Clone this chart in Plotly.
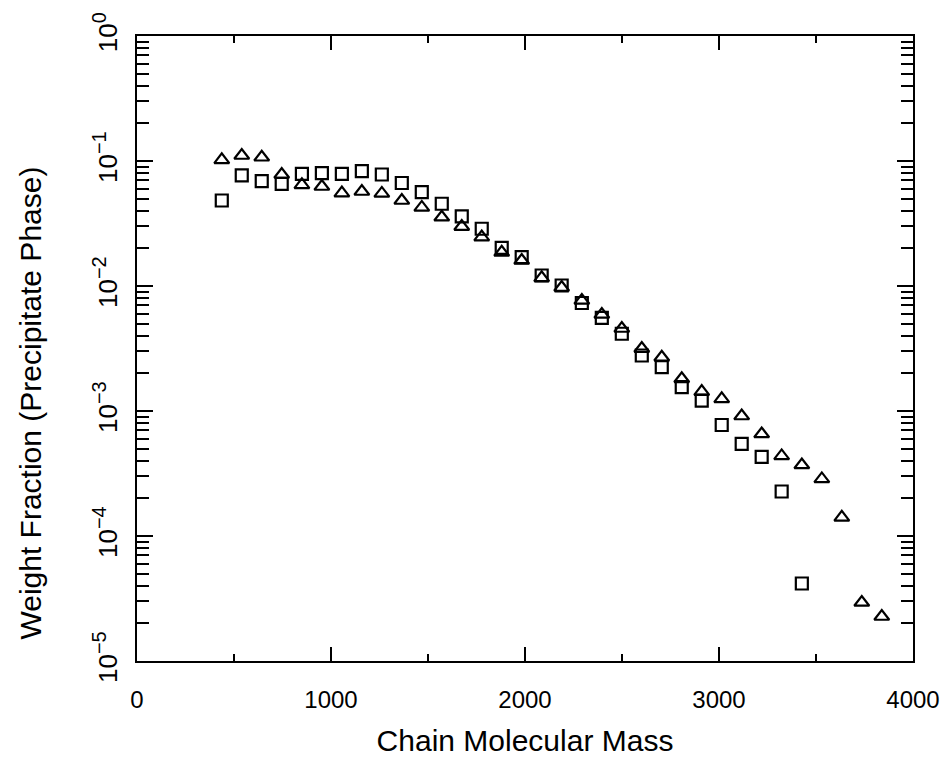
import plotly.graph_objects as go

# Chain molecular mass (x) for each measured species
mass_tri = [437, 540, 643, 746, 850, 953, 1056, 1159, 1262, 1365, 1468, 1571,
            1674, 1777, 1880, 1983, 2086, 2189, 2293, 2396, 2499, 2602, 2705,
            2808, 2911, 3014, 3117, 3220, 3323, 3427, 3530, 3633, 3736, 3839]
frac_tri = [0.1022, 0.1107, 0.1072, 0.0780, 0.0645, 0.0625, 0.0553, 0.0570,
            0.0550, 0.0483, 0.0425, 0.0355, 0.0299, 0.0246, 0.0186, 0.0160,
            0.01163, 0.00973, 0.00766, 0.00592, 0.00457, 0.00316, 0.00269,
            0.00181, 0.00143, 0.00125, 0.000912, 0.000655, 0.000437, 0.000370,
            0.000286, 0.000141, 2.94e-5, 2.27e-5]

mass_sq = [437, 540, 643, 746, 850, 953, 1056, 1159, 1262, 1365, 1468, 1571,
           1674, 1777, 1880, 1983, 2086, 2189, 2293, 2396, 2499, 2602, 2705,
           2808, 2911, 3014, 3117, 3220, 3323, 3427]
frac_sq = [0.0483, 0.0766, 0.0689, 0.0657, 0.0790, 0.0799, 0.0790, 0.0829,
           0.0780, 0.0667, 0.0563, 0.0455, 0.0360, 0.0287, 0.0202, 0.0170,
           0.01213, 0.01009, 0.00731, 0.00555, 0.00415, 0.00278, 0.00224,
           0.00155, 0.00121, 0.000773, 0.000545, 0.000429, 0.000227, 4.17e-5]

x_ticks = [0, 1000, 2000, 3000, 4000]
y_exps = [-5, -4, -3, -2, -1, 0]
y_ticks = [10.0 ** e for e in y_exps]
y_ticktext = ["10<sup><span style='font-size:20px'>%s</span></sup>" % str(e).replace("-", "\u2212") for e in y_exps]
x_title = "Chain Molecular Mass"
y_title = "Weight Fraction (Precipitate Phase)"

FONT = "Liberation Sans, Arial, sans-serif"

fig = go.Figure()
fig.add_trace(go.Scatter(
    x=mass_tri, y=frac_tri, mode="markers",
    marker=dict(symbol="triangle-up-open", size=13, color="black",
                line=dict(width=2.2, color="black")),
    showlegend=False))
fig.add_trace(go.Scatter(
    x=mass_sq, y=frac_sq, mode="markers",
    marker=dict(symbol="square-open", size=12, color="black",
                line=dict(width=2.2, color="black")),
    showlegend=False))

fig.update_layout(
    width=952, height=764,
    margin=dict(l=137, r=37, t=35, b=103),
    paper_bgcolor="white", plot_bgcolor="white",
    font=dict(family=FONT, color="black", size=24),
    xaxis=dict(
        range=[0, 4000], tickvals=x_ticks, ticktext=[str(v) for v in x_ticks],
        ticks="inside", ticklen=14, tickwidth=2, tickcolor="black",
        minor=dict(dtick=500, ticks="inside", ticklen=7, tickwidth=2, tickcolor="black"),
        showline=True, linewidth=2, linecolor="black", mirror="ticks",
        showgrid=False, zeroline=False,
        tickfont=dict(size=24), ticklabelstandoff=16,
        title=dict(text=x_title, font=dict(size=30), standoff=18),
    ),
    yaxis=dict(
        type="log", range=[-5, 0], tickvals=y_ticks, ticktext=y_ticktext,
        ticks="inside", ticklen=16, tickwidth=2, tickcolor="black",
        minor=dict(dtick="D1", ticks="inside", ticklen=12, tickwidth=1.5, tickcolor="black"),
        showline=True, linewidth=2, linecolor="black", mirror="ticks",
        showgrid=False, zeroline=False,
        tickangle=-90, tickfont=dict(size=26), ticklabelstandoff=8,
    ),
    annotations=[dict(
        text=y_title, textangle=-90, xref="paper", yref="paper",
        x=-0.137, y=0.413, xanchor="center", yanchor="middle",
        showarrow=False, font=dict(size=30, family=FONT, color="black"))],
)

fig.write_html("out.html")
